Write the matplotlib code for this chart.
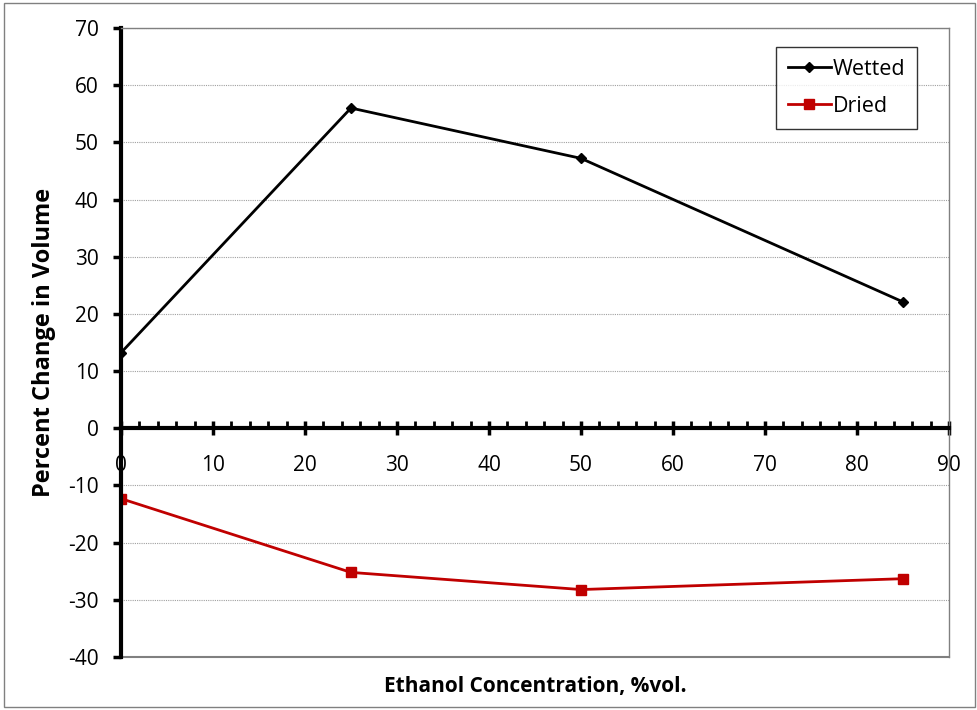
import matplotlib
matplotlib.use("Agg")
import matplotlib.pyplot as plt
from matplotlib.ticker import MultipleLocator
from matplotlib.patches import Rectangle

conc = [0, 25, 50, 85]
wetted = [13.2, 56.0, 47.2, 22.1]
dried = [-12.3, -25.2, -28.2, -26.3]

plt.rcParams['font.family'] = ['Open Sans', 'DejaVu Sans']
plt.rcParams['axes.unicode_minus'] = False

fig = plt.figure(figsize=(9.77, 7.10), dpi=100)
fig.patches.append(Rectangle((0.004, 0.004), 0.994, 0.992, transform=fig.transFigure,
                             fill=False, edgecolor='#808080', linewidth=1))
ax = fig.add_axes([0.1238, 0.0746, 0.8475, 0.886])

ax.plot(conc, wetted, color='black', lw=2, marker='D', ms=5, label='Wetted')
ax.plot(conc, dried, color='#C00000', lw=2, marker='s', ms=7, label='Dried')

ax.set_xlim(0, 90)
ax.set_ylim(-40, 70)
ax.xaxis.set_major_locator(MultipleLocator(10))
ax.xaxis.set_minor_locator(MultipleLocator(2))
ax.yaxis.set_major_locator(MultipleLocator(10))

ax.grid(axis='y', which='major', color='#a0a0a0', linestyle=(0, (1, 1)), lw=0.8)
ax.set_axisbelow(True)

ax.spines['bottom'].set_position(('data', 0))
ax.spines['bottom'].set_linewidth(3)
ax.spines['left'].set_linewidth(3)
ax.spines['top'].set_color('#808080')
ax.spines['top'].set_linewidth(1)
ax.spines['right'].set_color('#808080')
ax.spines['right'].set_linewidth(1)
ax.axhline(-40, color='#808080', lw=1.5, clip_on=False, zorder=1)

ax.tick_params(axis='x', which='major', direction='inout', length=10, width=2.5,
               labelsize=15, pad=14)
ax.tick_params(axis='x', which='minor', direction='in', length=5, width=2)
ax.tick_params(axis='y', which='major', direction='out', length=6, width=2.5,
               labelsize=15, pad=10)

ax.set_xlabel('Ethanol Concentration, %vol.', fontsize=15, fontweight='bold')
ax.xaxis.set_label_coords(0.5, -0.03)
ax.set_ylabel('Percent Change in Volume', fontsize=17, fontweight='bold')
ax.yaxis.set_label_coords(-0.078, 0.5)

leg = ax.legend(loc='upper right', bbox_to_anchor=(0.962, 0.97), fontsize=15.5,
                frameon=True, fancybox=False, edgecolor='black', handlelength=2.0,
                handletextpad=0.1, borderpad=0.55, labelspacing=0.75, borderaxespad=0)
leg.get_frame().set_linewidth(1)

fig.savefig('out.png', dpi=100)
